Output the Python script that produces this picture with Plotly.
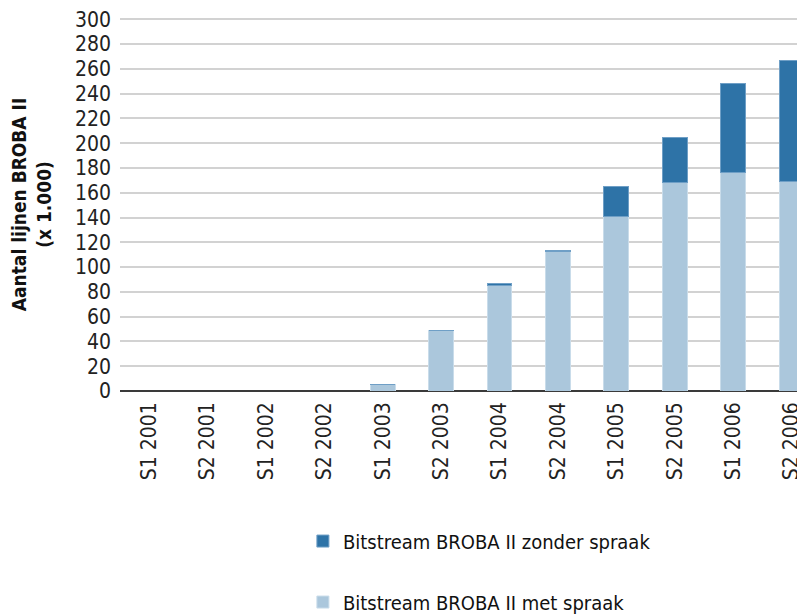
import plotly.graph_objects as go

# categorieën (halfjaren)
perioden = ["S1 2001", "S2 2001", "S1 2002", "S2 2002", "S1 2003", "S2 2003",
            "S1 2004", "S2 2004", "S1 2005", "S2 2005", "S1 2006", "S2 2006"]

# aantal lijnen x 1.000
met_spraak = [0, 0, 0, 0, 5.2, 48.5, 85.4, 112.3, 140.5, 168.0, 176.4, 169.4]
zonder_spraak = [0, 0, 0, 0, 0, 0, 1.3, 1.3, 24.8, 36.9, 71.6, 97.7]

y_ticks = list(range(0, 301, 20))

FONT = "DejaVu Sans Condensed, Liberation Sans Narrow, sans-serif"

fig = go.Figure()

fig.add_trace(go.Bar(
    x=perioden, y=met_spraak,
    name="Bitstream BROBA II met spraak",
    legendgroup="met", legendrank=2,
    marker=dict(color="#abc7dc", line=dict(color="#c9dcea", width=1)),
))

fig.add_trace(go.Bar(
    x=perioden, y=zonder_spraak,
    name="Bitstream BROBA II zonder spraak",
    legendgroup="zonder", legendrank=1,
    marker=dict(color="#2e73a7", line=dict(color="#6f9fc6", width=1)),
))

# de pagina zet de figuur 8px naar rechts/onder (body-marge), vandaar de marges
fig.update_layout(
    barmode="stack",
    bargap=0.575,
    width=805, height=614,
    margin=dict(l=112, r=8, t=10, b=231, autoexpand=False),
    plot_bgcolor="white",
    paper_bgcolor="white",
    font=dict(family=FONT, size=20, color="#222222"),
    showlegend=True,
    legend=dict(
        x=0.267, y=-0.35, xanchor="left", yanchor="top",
        traceorder="grouped",
        tracegroupgap=32,
        font=dict(family=FONT, size=20, color="#111111"),
        itemwidth=30,
    ),
    xaxis=dict(
        range=[-0.5, 11.23],
        tickangle=-90,
        showgrid=False,
        showline=False,
        ticks="",
        ticklabelstandoff=6,
        tickfont=dict(family=FONT, size=21),
    ),
    yaxis=dict(
        range=[0, 301],
        tickvals=y_ticks,
        showgrid=True,
        gridcolor="#d2d2d2",
        gridwidth=1.5,
        zeroline=True,
        zerolinecolor="#3a3a3a",
        zerolinewidth=2,
        ticks="",
        ticklabelstandoff=8,
        ticklabeloverflow="allow",
        tickfont=dict(family=FONT, size=21),
        title=dict(
            text="<b>Aantal lijnen BROBA II<br>(x 1.000)</b>",
            font=dict(family=FONT, size=19, color="#111111"),
            standoff=18,
        ),
    ),
)

fig.write_html("out.html")
